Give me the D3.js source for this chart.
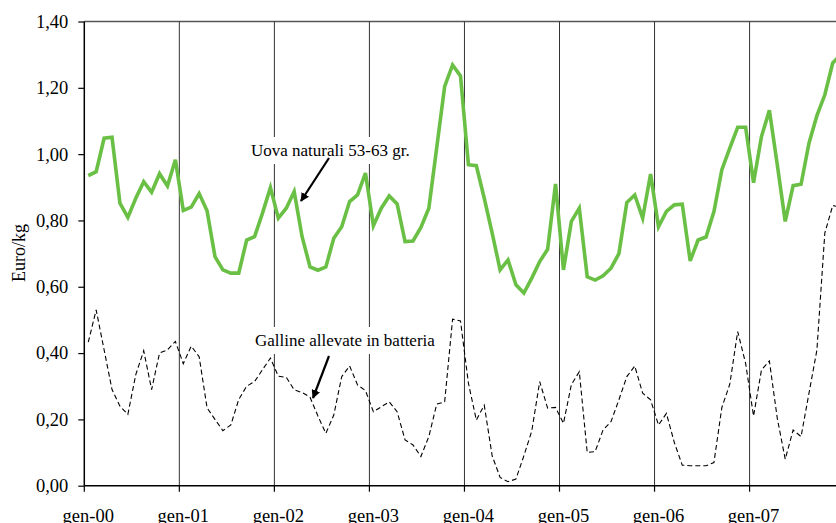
<!DOCTYPE html>
<html>
<head>
<meta charset="utf-8">
<script src="https://cdn.jsdelivr.net/npm/d3@7"></script>
<style>
  html, body { margin: 0; padding: 0; background: #fff; overflow: hidden; }
  svg { display: block; }
  text { font-family: "Liberation Serif", "Times New Roman", serif; fill: #000; }
</style>
</head>
<body>
<svg id="chart" width="836" height="523"></svg>
<script>
const years = ["00", "01", "02", "03", "04", "05", "06", "07"];
const monthNames = ["gen", "feb", "mar", "apr", "mag", "giu", "lug", "ago", "set", "ott", "nov", "dic"];
const yearTickLabels = ["gen-00", "gen-01", "gen-02", "gen-03", "gen-04", "gen-05", "gen-06", "gen-07"];
const yTicks = [0, 0.2, 0.4, 0.6, 0.8, 1.0, 1.2, 1.4];

// Uova naturali 53-63 gr. (Euro/kg), monthly gen-00 .. dic-07
const uova = [
  0.935, 0.947, 1.048, 1.051, 0.852, 0.809, 0.867, 0.917, 0.885, 0.941, 0.904, 0.983,
  0.830, 0.840, 0.881, 0.829, 0.691, 0.651, 0.641, 0.641, 0.741, 0.751, 0.822, 0.899,
  0.807, 0.837, 0.887, 0.751, 0.660, 0.650, 0.660, 0.746, 0.781, 0.857, 0.877, 0.943,
  0.784, 0.837, 0.874, 0.850, 0.736, 0.738, 0.779, 0.837, 1.020, 1.204, 1.269, 1.236,
  0.968, 0.965, 0.867, 0.762, 0.651, 0.681, 0.606, 0.581, 0.626, 0.676, 0.713, 0.910,
  0.651, 0.797, 0.837, 0.630, 0.620, 0.633, 0.656, 0.700, 0.854, 0.877, 0.807, 0.940,
  0.781, 0.827, 0.847, 0.849, 0.678, 0.741, 0.750, 0.827, 0.953, 1.018, 1.081, 1.081,
  0.914, 1.053, 1.132, 0.968, 0.797, 0.905, 0.909, 1.033, 1.116, 1.179, 1.275, 1.300
];

// Galline allevate in batteria (Euro/kg)
const galline = [
  0.433, 0.530, 0.410, 0.290, 0.240, 0.215, 0.335, 0.407, 0.290, 0.400, 0.410, 0.435,
  0.368, 0.421, 0.389, 0.235, 0.200, 0.166, 0.183, 0.260, 0.300, 0.314, 0.350, 0.385,
  0.330, 0.327, 0.289, 0.281, 0.267, 0.210, 0.158, 0.213, 0.329, 0.361, 0.304, 0.287,
  0.223, 0.238, 0.253, 0.223, 0.138, 0.123, 0.088, 0.148, 0.246, 0.253, 0.502, 0.497,
  0.309, 0.198, 0.243, 0.090, 0.025, 0.012, 0.020, 0.090, 0.165, 0.314, 0.234, 0.236,
  0.188, 0.305, 0.344, 0.100, 0.103, 0.168, 0.193, 0.259, 0.329, 0.361, 0.279, 0.259,
  0.183, 0.218, 0.130, 0.062, 0.060, 0.060, 0.060, 0.070, 0.236, 0.306, 0.465, 0.369,
  0.210, 0.349, 0.376, 0.203, 0.080, 0.168, 0.148, 0.279, 0.409, 0.762, 0.845, 0.840
];

const months = [];
years.forEach(yy => monthNames.forEach(m => months.push(m + "-" + yy)));

const svg = d3.select("#chart");
const padL = 84.3, padT = 21.5, padB = 485.7, monthW = 7.92;
const nMonths = months.length;

const x = d3.scaleLinear().domain([0, nMonths]).range([padL, padL + nMonths * monthW]);
const y = d3.scaleLinear().domain([0, 1.4]).range([padB, padT]);

// top border
svg.append("line")
  .attr("x1", padL).attr("x2", 836).attr("y1", y(1.4)).attr("y2", y(1.4))
  .attr("stroke", "#555").attr("stroke-width", 1.5);

// vertical year gridlines
const yearIdx = yearTickLabels.map((d, i) => i * 12);
svg.append("g").selectAll("line").data(yearIdx.slice(1)).join("line")
  .attr("x1", d => x(d)).attr("x2", d => x(d))
  .attr("y1", y(1.4)).attr("y2", padB)
  .attr("stroke", "#333").attr("stroke-width", 1);

// lines
const lineGen = d3.line().x((d, i) => x(i + 0.5)).y(d => y(d));

svg.append("path").datum(galline)
  .attr("d", lineGen).attr("fill", "none")
  .attr("stroke", "#000").attr("stroke-width", 1.1)
  .attr("stroke-dasharray", "5,3");

svg.append("path").datum(uova)
  .attr("d", lineGen).attr("fill", "none")
  .attr("stroke", "#6abf45").attr("stroke-width", 3.6)
  .attr("stroke-linejoin", "miter");

// Y axis
const yAxis = d3.axisLeft(y).tickValues(yTicks).tickSize(6)
  .tickFormat(d => d3.format(".2f")(d).replace(".", ","));
const gy = svg.append("g").attr("transform", `translate(${padL},0)`).call(yAxis);
gy.select(".domain").attr("stroke", "#000").attr("stroke-width", 1.5).attr("d", `M0,${padT}V${padB}`);
gy.selectAll(".tick line").attr("stroke", "#000").attr("stroke-width", 1.2);
gy.selectAll(".tick text")
  .attr("x", -16)
  .style("font-family", "'Liberation Serif', 'Times New Roman', serif")
  .style("font-size", "18.5px").attr("fill", "#000");

// X axis
const gx = svg.append("g").attr("transform", `translate(0,${padB})`);
gx.append("line").attr("x1", padL).attr("x2", 836).attr("y1", 0).attr("y2", 0)
  .attr("stroke", "#000").attr("stroke-width", 1.5);
gx.selectAll("line.tk").data(yearIdx).join("line").attr("class", "tk")
  .attr("x1", d => x(d)).attr("x2", d => x(d)).attr("y1", 0).attr("y2", 6)
  .attr("stroke", "#000").attr("stroke-width", 1.2);
gx.selectAll("text").data(yearTickLabels).join("text")
  .attr("x", (d, i) => x(yearIdx[i] + 0.5))
  .attr("y", 36)
  .attr("text-anchor", "middle")
  .style("font-size", "18.5px")
  .text(d => d);

// Y title
svg.append("text")
  .attr("transform", "translate(25,253) rotate(-90)")
  .attr("text-anchor", "middle")
  .style("font-size", "18px")
  .text("Euro/kg");

// annotations
svg.append("defs").append("marker")
  .attr("id", "arr").attr("viewBox", "0 0 10 10")
  .attr("refX", 9).attr("refY", 5)
  .attr("markerWidth", 4).attr("markerHeight", 4)
  .attr("markerUnits", "strokeWidth")
  .attr("orient", "auto")
  .append("path").attr("d", "M0,0L10,5L0,10z").attr("fill", "#000");

function annotate(label, tx, ty, ax1, ay1, ax2, ay2) {
  const g = svg.append("g");
  const rect = g.append("rect").attr("fill", "#fff");
  const t = g.append("text").attr("x", tx).attr("y", ty)
    .style("font-size", "17px").text(label);
  const bb = t.node().getBBox();
  rect.attr("x", bb.x - 3).attr("y", bb.y - 4).attr("width", bb.width + 6).attr("height", bb.height + 8);
  g.append("line").attr("x1", ax1).attr("y1", ay1).attr("x2", ax2).attr("y2", ay2)
    .attr("stroke", "#000").attr("stroke-width", 2.2)
    .attr("marker-end", "url(#arr)");
}
annotate("Uova naturali 53-63 gr.", 251, 156, 329, 158, 301, 201);
annotate("Galline allevate in batteria", 255, 346, 329, 356, 313, 398);
</script>
</body>
</html>
